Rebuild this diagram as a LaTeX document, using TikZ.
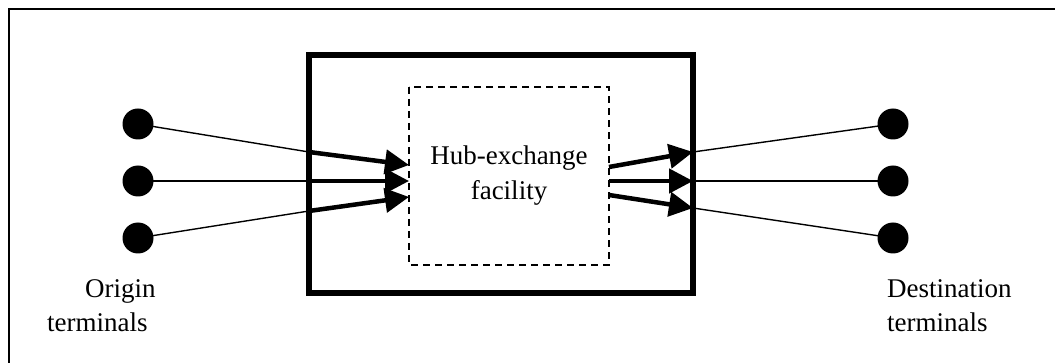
\documentclass[tikz,border=0pt]{standalone}
\usepackage{fontspec}
\setmainfont{Liberation Serif}
\usetikzlibrary{arrows.meta}
\begin{document}
\begin{tikzpicture}[x=1pt,y=-1pt,
  terminal/.style={circle,fill=black,inner sep=0pt,minimum size=31pt},
  feeder/.style={line width=1.4pt},
  transfer/.style={line width=4.5pt,-{Triangle[length=24pt,width=24pt]}},
  label/.style={font=\fontsize{27}{34}\selectfont,inner sep=0pt,anchor=base west}]
\useasboundingbox (0,0) rectangle (1055,363);
% frame around the figure
\draw[line width=2.2pt] (1055,9) -- (9,9) -- (9,363);
% hub building and the exchange facility inside it
\draw[line width=6pt] (309,55) rectangle (693,293);
\draw[line width=1.5pt,dash pattern=on 7pt off 5pt] (409,87) rectangle (609,265);
\node[font=\fontsize{27}{35}\selectfont,align=center] (hub) at (509,176) {Hub-exchange\\facility};
% origin terminals
\node[terminal] (o1) at (138,124) {};
\node[terminal] (o2) at (138,181) {};
\node[terminal] (o3) at (138,238) {};
% destination terminals
\node[terminal] (d1) at (893,124) {};
\node[terminal] (d2) at (893,181) {};
\node[terminal] (d3) at (893,238) {};
% where the flows cross the hub wall
\coordinate (wi1) at (309,152);
\coordinate (wi2) at (309,181);
\coordinate (wi3) at (309,211);
\coordinate (wo1) at (693,152);
\coordinate (wo2) at (693,181);
\coordinate (wo3) at (693,208);
% ends at the exchange facility
\coordinate (fi1) at (409,165);
\coordinate (fi2) at (409,181);
\coordinate (fi3) at (409,197);
\coordinate (fo1) at (609,167);
\coordinate (fo2) at (609,181);
\coordinate (fo3) at (609,195);
% inbound flows
\foreach \i in {1,2,3}{
  \draw[feeder] (o\i.center) -- (wi\i);
  \draw[transfer] (wi\i) -- (fi\i);
}
% outbound flows
\foreach \i in {1,2,3}{
  \draw[transfer] (fo\i) -- (wo\i);
  \draw[feeder] (wo\i) -- (d\i.center);
}
% captions
\node[label] (org) at (85,298) {Origin};
\node[label] (orgb) at (47,331) {terminals};
\node[label] (dst) at (887,298) {Destination};
\node[label] (dstb) at (887,331) {terminals};
\end{tikzpicture}
\end{document}
